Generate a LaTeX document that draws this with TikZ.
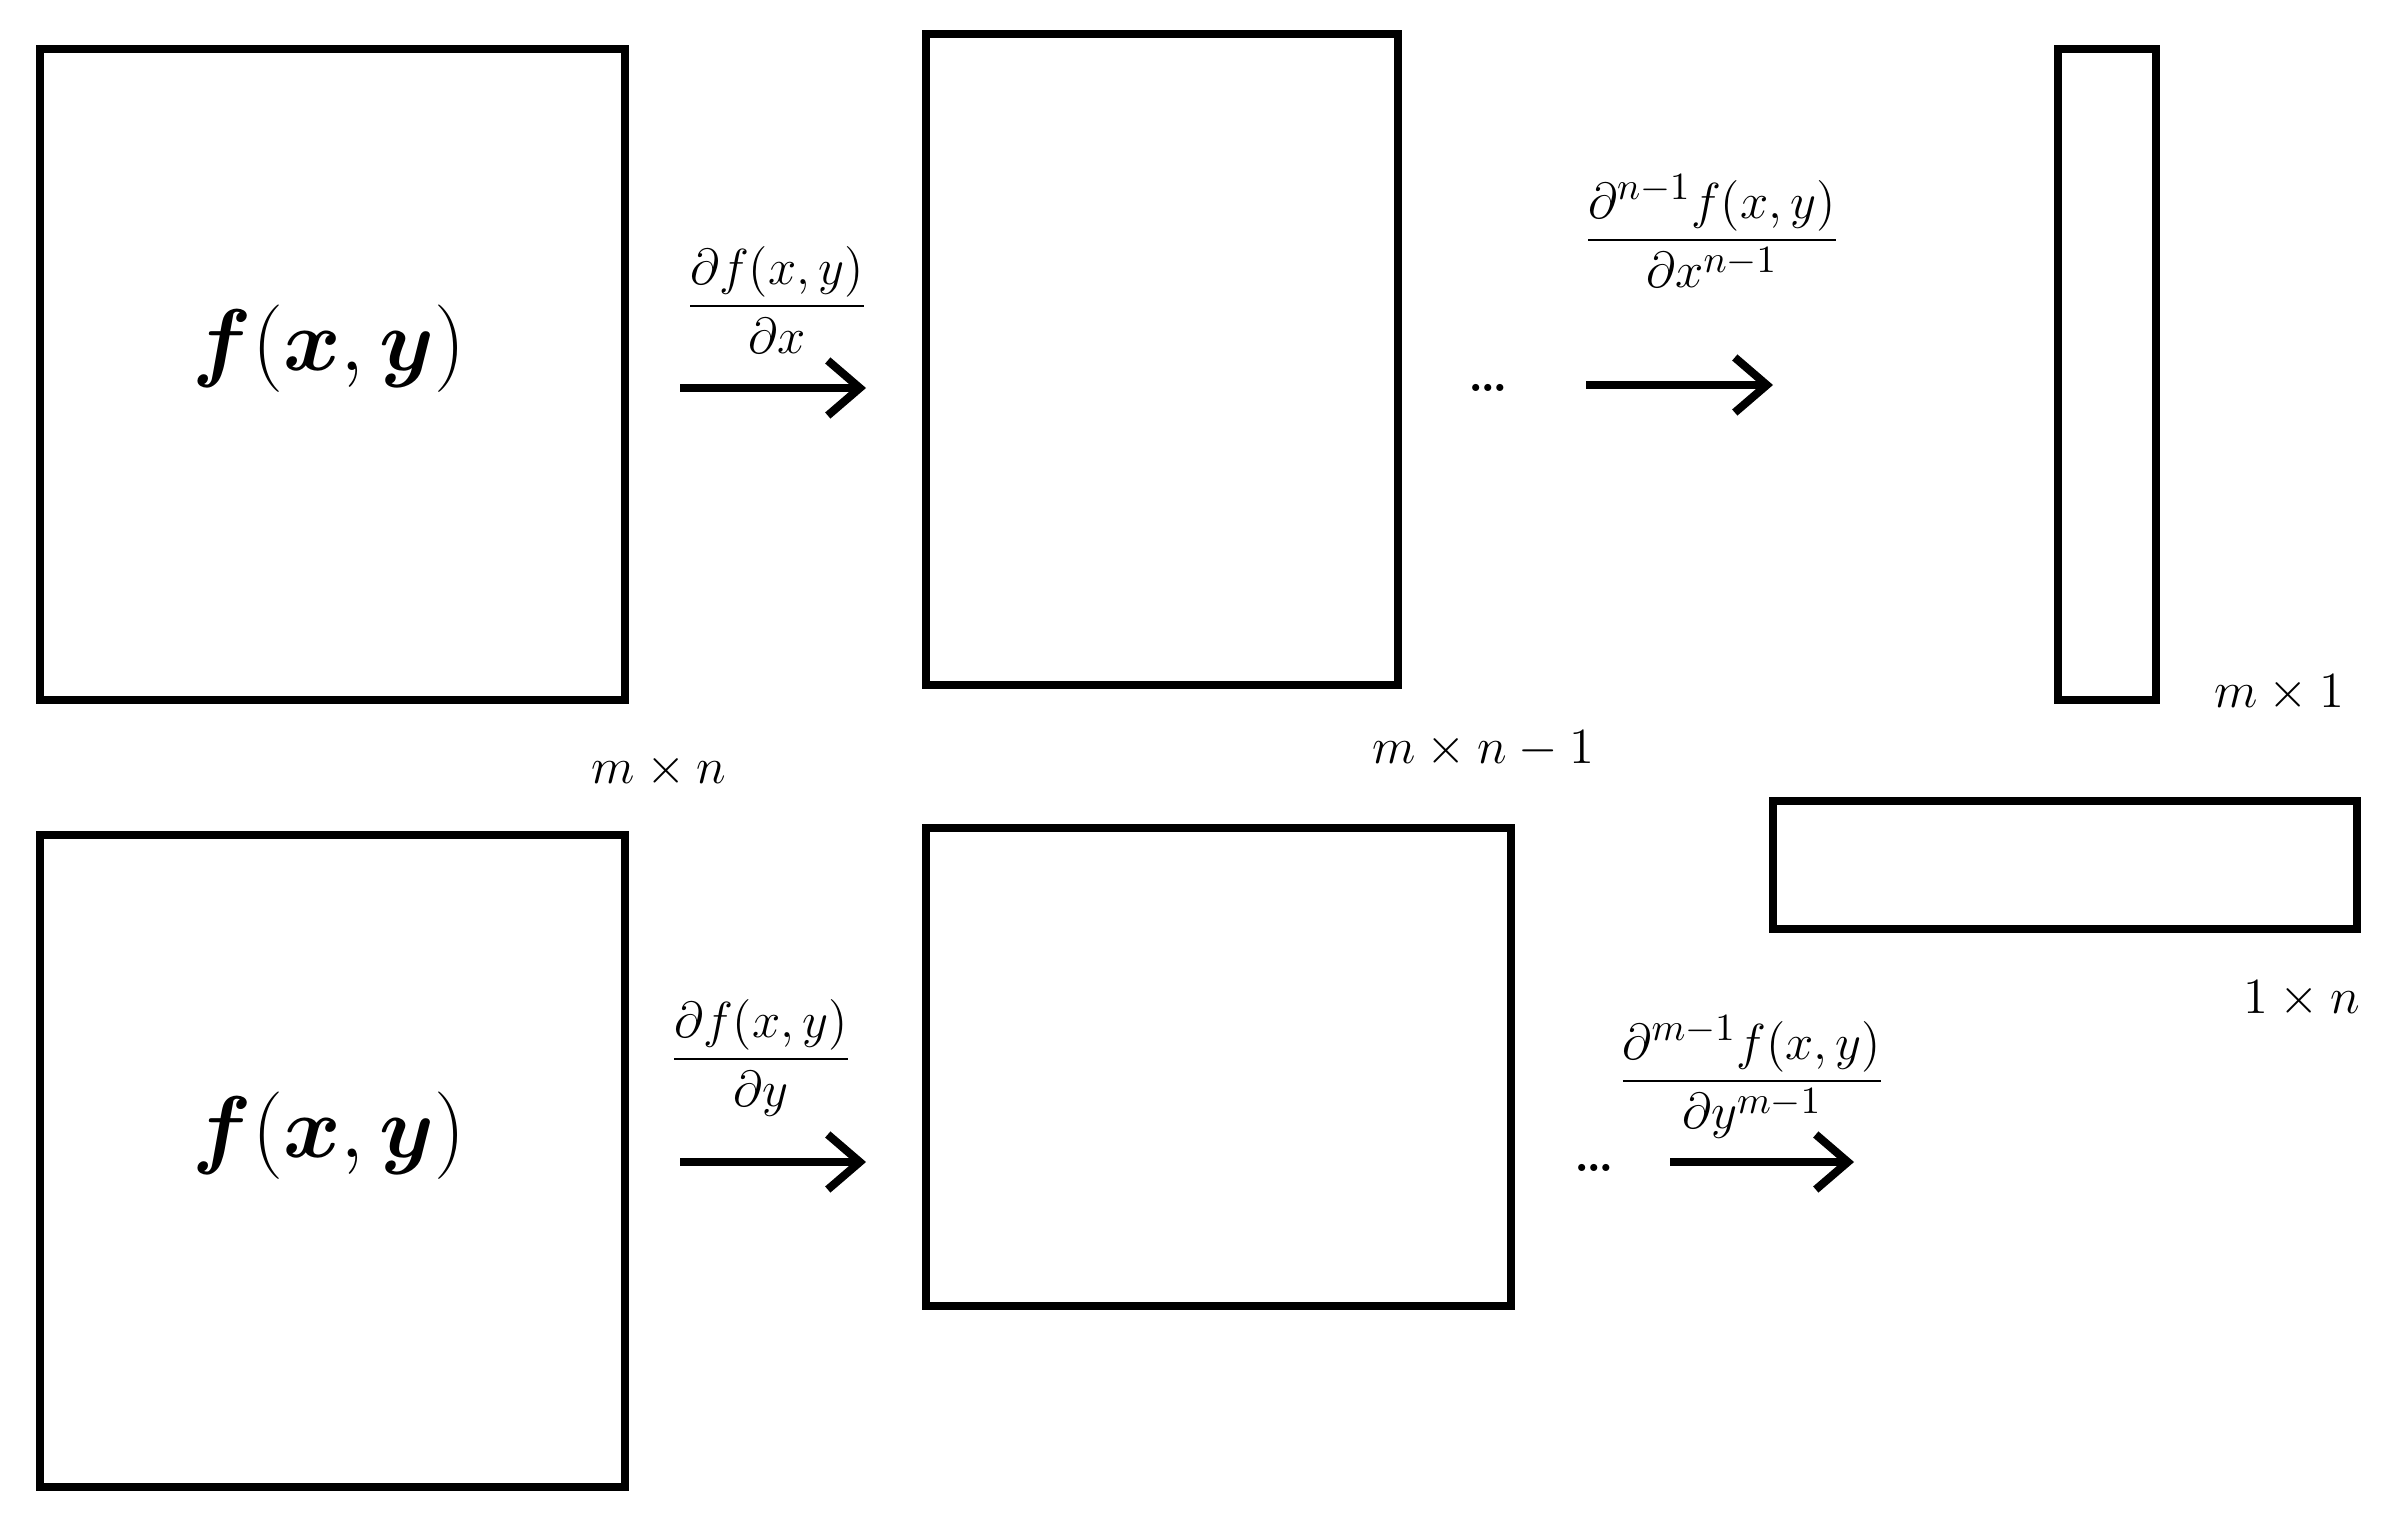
\documentclass[tikz,border=0pt]{standalone}
\usepackage{amsmath}
\usepackage{bm}
\usetikzlibrary{arrows.meta}
\begin{document}
\begin{tikzpicture}[x=0.01cm,y=-0.01cm,
  box/.style={draw,line width=2.3pt,inner sep=0pt,rectangle},
  arr/.style={line width=2.3pt,-{Straight Barb[length=0.32cm,width=0.55cm,line width=2.3pt]}},
  lab/.style={font=\fontsize{14}{17}\selectfont,inner sep=0pt},
  fraclab/.style={font=\fontsize{14}{17}\selectfont,inner sep=0pt},
  fraclabb/.style={font=\fontsize{15}{18}\selectfont,inner sep=0pt},
  big/.style={font=\fontsize{24}{28}\selectfont,inner sep=0pt}]
\useasboundingbox (0,0) rectangle (2403,1527);
% boxes
\node[box,minimum width=5.85cm,minimum height=6.51cm] (A) at (332.5,374.5) {};
\node[box,minimum width=4.72cm,minimum height=6.51cm] (B) at (1162,359.5) {};
\node[box,minimum width=0.98cm,minimum height=6.51cm] (C) at (2107,374.5) {};
\node[box,minimum width=5.85cm,minimum height=6.52cm] (D) at (332.5,1161) {};
\node[box,minimum width=5.85cm,minimum height=4.78cm] (E) at (1218.5,1067) {};
\node[box,minimum width=5.84cm,minimum height=1.28cm] (F) at (2065,865) {};
% main texts
\node[big] (fA) at (329,349) {$\bm{f}(\bm{x},\bm{y})$};
\node[big] (fD) at (329,1136) {$\bm{f}(\bm{x},\bm{y})$};
% arrows
\coordinate (a1s) at (680,388); \coordinate (a1e) at (866,388);
\coordinate (a2s) at (1586,385); \coordinate (a2e) at (1773,385);
\coordinate (a3s) at (680,1162); \coordinate (a3e) at (866,1162);
\coordinate (a4s) at (1670,1162); \coordinate (a4e) at (1854,1162);
\draw[arr] (a1s) -- (a1e);
\draw[arr] (a2s) -- (a2e);
\draw[arr] (a3s) -- (a3e);
\draw[arr] (a4s) -- (a4e);
% fraction labels
\node[fraclab] (l1) at (777,300) {$\dfrac{\partial f(x,y)}{\partial x}$};
\node[fraclabb] (l2) at (1712,231) {$\dfrac{\partial^{n-1}f(x,y)}{\partial x^{n-1}}$};
\node[fraclab] (l3) at (761,1058) {$\dfrac{\partial f(x,y)}{\partial y}$};
\node[fraclabb] (l4) at (1752,1077) {$\dfrac{\partial^{m-1}f(x,y)}{\partial y^{m-1}}$};
% dots
\node[lab] (d1) at (1488,388) {\textbf{\ldots}};
\node[lab] (d2) at (1594,1168) {\textbf{\ldots}};
% size labels
\node[lab] (s1) at (659,771) {$m\times n$};
\node[lab] (s2) at (1483,749) {$m\times n-1$};
\node[lab] (s3) at (2279,693) {$m\times 1$};
\node[lab] (s4) at (2302,999) {$1\times n$};
\end{tikzpicture}
\end{document}
